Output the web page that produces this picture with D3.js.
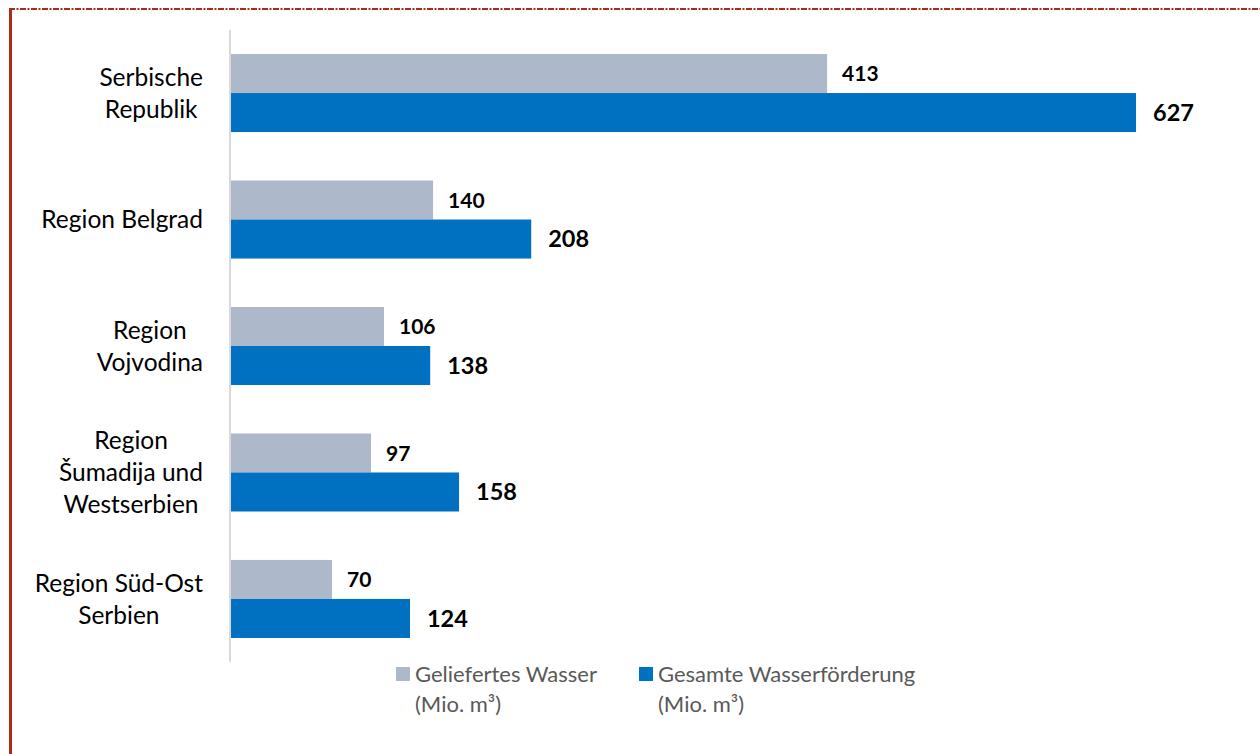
<!DOCTYPE html>
<html><head><meta charset="utf-8">
<script src="https://cdn.jsdelivr.net/npm/d3@7"></script>
<style>html,body{margin:0;padding:0;background:#fff;}</style>
</head><body>
<svg id="c" width="1260" height="754"></svg>
<script>
const categories = [
  ["Serbische", "Republik"],
  ["Region Belgrad"],
  ["Region", "Vojvodina"],
  ["Region", "Šumadija und", "Westserbien"],
  ["Region Süd-Ost", "Serbien"]
];
const geliefert = [413, 140, 106, 97, 70];
const gesamt = [627, 208, 138, 158, 124];
const seriesNames = [["Geliefertes Wasser", "(Mio. m³)"], ["Gesamte Wasserförderung", "(Mio. m³)"]];
const colors = ["#ADB9CA", "#0070C0"];

const svg = d3.select("#c");
const font = "Lato, 'Open Sans', sans-serif";

// frame
svg.append("line").attr("x1", 10.5).attr("x2", 10.5).attr("y1", 8).attr("y2", 754)
  .attr("stroke", "#A82B1C").attr("stroke-width", 3);
svg.append("line").attr("x1", 9).attr("x2", 1260).attr("y1", 9).attr("y2", 9)
  .attr("stroke", "#A82B1C").attr("stroke-width", 2).attr("stroke-dasharray", "6,1.5,2,1.5");

const x = d3.scaleLinear().domain([0, 700]).range([231, 231 + 700 * 905 / 627]);
const y = d3.scaleBand().domain(d3.range(categories.length)).range([30, 662]).paddingInner(0.383).paddingOuter(0.19);
const sub = d3.scaleBand().domain([0, 1]).range([0, y.bandwidth()]);

const groups = svg.selectAll("g.grp").data(categories).join("g")
  .attr("transform", (d, i) => `translate(0,${y(i)})`);

const series = [geliefert, gesamt];
series.forEach((vals, s) => {
  groups.append("rect")
    .attr("x", x(0)).attr("y", sub(s))
    .attr("width", (d, i) => x(vals[i]) - x(0))
    .attr("height", sub.bandwidth())
    .attr("fill", colors[s]);
  groups.append("text")
    .attr("x", (d, i) => x(vals[i]) + (s === 0 ? 15 : 17))
    .attr("y", sub(s) + sub.bandwidth() / 2)
    .attr("dy", "0.36em")
    .attr("font-family", font).attr("font-weight", "bold")
    .attr("font-size", s === 0 ? 21 : 23.5)
    .attr("fill", "#000")
    .text((d, i) => vals[i]);
});

// axis line
svg.append("line").attr("x1", 230).attr("x2", 230).attr("y1", 30).attr("y2", 662)
  .attr("stroke", "#D9D9D9").attr("stroke-width", 2);

// category labels
const lh = 32;
groups.each(function(lines, i) {
  const g = d3.select(this);
  const cy = y.bandwidth() / 2;
  const t = g.append("text").attr("font-family", font).attr("font-size", 24.5).attr("fill", "#000")
    .attr("text-anchor", "middle");
  const tspans = lines.map((l, k) => t.append("tspan").attr("y", cy + (k - (lines.length - 1) / 2) * lh).attr("dy", "0.35em").text(l));
  const w = d3.max(tspans, ts => ts.node().getComputedTextLength());
  const right = 203;
  tspans.forEach(ts => ts.attr("x", right - w / 2));
});

// legend
const legX = [396, 639];
seriesNames.forEach((nm, s) => {
  const g = svg.append("g").attr("transform", `translate(${legX[s]},0)`);
  g.append("rect").attr("x", 0).attr("y", 667).attr("width", 14).attr("height", 14).attr("fill", colors[s]);
  const t = g.append("text").attr("font-family", font).attr("font-size", 22).attr("fill", "#595959");
  nm.forEach((l, k) => t.append("tspan").attr("x", 19).attr("y", 682 + k * 30).text(l));
});
</script>
</body></html>
